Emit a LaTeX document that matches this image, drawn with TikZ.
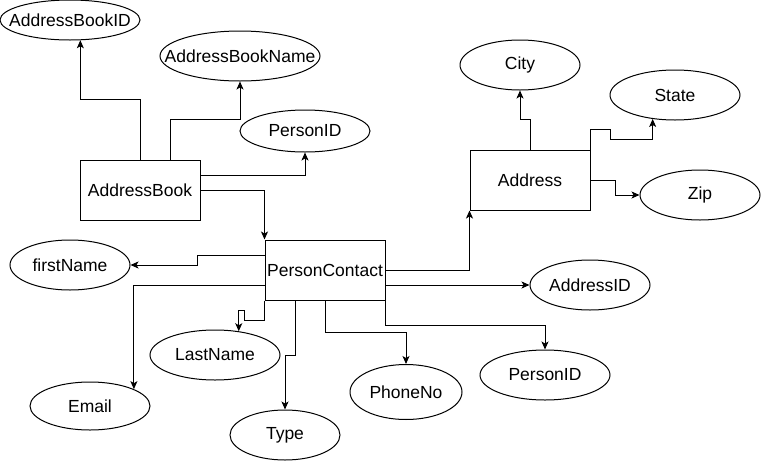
\documentclass[tikz,border=0pt]{standalone}
\usepackage{fontspec}
\setmainfont{Liberation Sans}
\usetikzlibrary{arrows.meta,shapes.geometric}

\begin{document}
\begin{tikzpicture}[x=1pt, y=-1pt, line width=1pt,
    lbl/.style={font=\fontsize{17.5}{21}\selectfont, inner sep=0pt,
        execute at begin node={\hbox to 0pt\bgroup\hss},
        execute at end node={\hss\egroup}},
    entity/.style={lbl, draw, rectangle, minimum width=120pt, minimum height=60pt},
    attr/.style 2 args={lbl, draw, ellipse, minimum width=#1, minimum height=#2},
    link/.style={-{Stealth[length=8pt,width=7pt,inset=2pt]}}]

    \useasboundingbox (0,0) rectangle (761,461);

    \node[entity] at (140,190) (AB) {AddressBook};
    \node[entity] at (325,270) (PC) {PersonContact};
    \node[entity] at (530,180) (AD) {Address};
    \node[attr={140pt}{40pt}] at (70,20) (ABID) {AddressBookID};
    \node[attr={160pt}{50pt}] at (240,56) (ABN) {AddressBookName};
    \node[attr={130pt}{42pt}] at (305,131) (ABPID) {PersonID};
    \node[attr={120pt}{50pt}] at (520,65) (CITY) {City};
    \node[attr={130pt}{50pt}] at (675,95) (ST) {State};
    \node[attr={120pt}{50pt}] at (700,195) (ZIP) {Zip};
    \node[attr={120pt}{50pt}] at (70,265) (FN) {firstName};
    \node[attr={120pt}{48pt}] at (90,406) (EM) {Email};
    \node[attr={130pt}{50pt}] at (215,355) (LN) {LastName};
    \node[attr={110pt}{50pt}] at (285,435) (TY) {Type};
    \node[attr={112pt}{55pt}] at (406,392) (PH) {PhoneNo};
    \node[attr={130pt}{50pt}] at (545,375) (PCID) {PersonID};
    \node[attr={120pt}{50pt}] at (590,285) (ADID) {AddressID};

    \draw[link] (AB.north) -- ++(0,-60) -| (ABID.-63);
    \draw[link] ([xshift=30pt]AB.north) -- ++(0,-40) -| (ABN.south);
    \draw[link] ([yshift=15pt]AB.east) -| (ABPID.south);
    \draw[link] (AB.east) -| (PC.north west);
    \draw[link] (PC.east) -| (AD.south west);
    \draw[link] ([yshift=-15pt]PC.east) -- (ADID.west);
    \draw[link] (PC.south east) -- ++(0,25) -| (PCID.north);
    \draw[link] (PC.south) -- ++(0,32) -| (PH.north);
    \draw[link] ([xshift=-30pt]PC.south) -- ++(0,55) -| (TY.north);
    \draw[link] (PC.south west) -- ++(0,20) -- ++(-20,0) -- ++(0,-10) -| (LN.45);
    \draw[link] ([yshift=15pt]PC.west) -- ++(-67,0) |- (FN.east);
    \draw[link] ([yshift=-15pt]PC.west) -| (EM.21);
    \draw[link] (AD.north) -- ++(0,-30) -| (CITY.south);
    \draw[link] (AD.north east) -- ++(0,-20) -- ++(20,0) -- ++(0,10) -| (ST.-133);
    \draw[link] (AD.east) -- ++(25,0) |- (ZIP.west);
\end{tikzpicture}
\end{document}
